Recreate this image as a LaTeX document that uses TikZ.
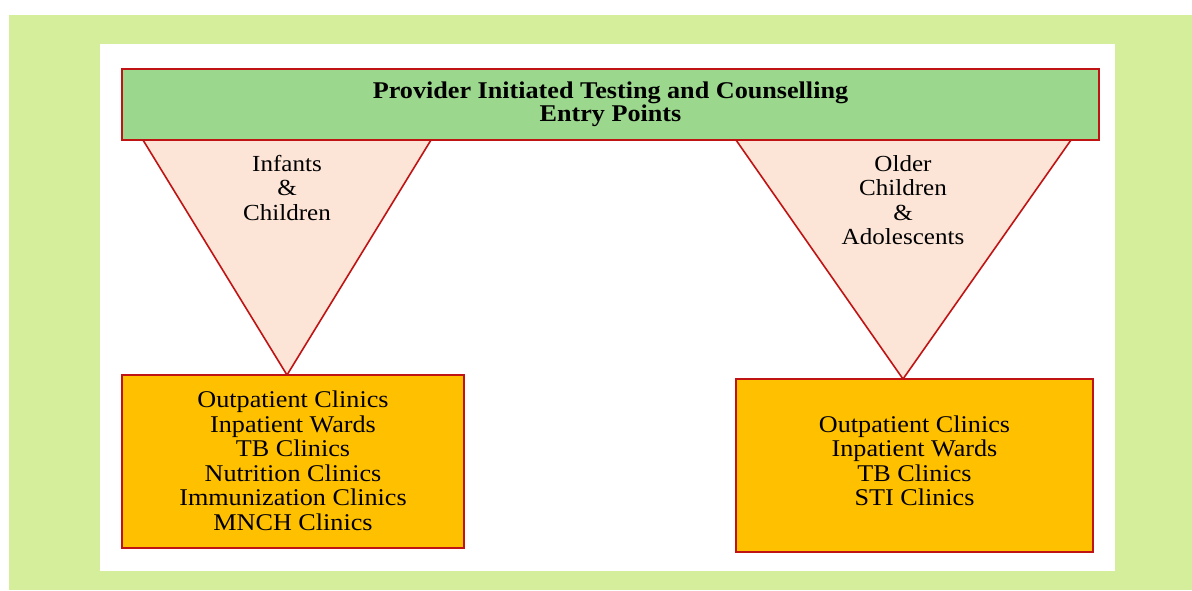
\documentclass[tikz,border=0pt]{standalone}
\usepackage{fontspec}
\setmainfont{Liberation Serif}[FakeStretch=1.09]

\definecolor{outergreen}{RGB}{213,238,155}
\definecolor{bargreen}{RGB}{155,215,140}
\definecolor{peach}{RGB}{252,228,214}
\definecolor{amber}{RGB}{255,192,0}
\definecolor{edgered}{RGB}{192,20,20}

\tikzset{
  headbar/.style={draw=edgered,line width=2pt,fill=bargreen,minimum width=977pt,minimum height=71pt,
    align=center,font=\fontsize{24}{23.5}\selectfont\bfseries},
  wedge/.style={draw=edgered,line width=1.6pt,fill=peach,line join=miter},
  wedgetext/.style={align=center,font=\fontsize{23}{24.5}\selectfont},
  sitebox/.style={draw=edgered,line width=2pt,fill=amber,align=center,
    font=\fontsize{24}{24.5}\selectfont}
}

\begin{document}
\begin{tikzpicture}[x=1pt,y=-1pt]
   \useasboundingbox (0,0) rectangle (1192,590);
   \fill[outergreen] (9,15) rectangle (1192,590);
   \fill[white] (100,44) rectangle (1115,571);
   % corners of the two wedges
   \coordinate (la) at (143,140);
   \coordinate (lb) at (431,140);
   \coordinate (lc) at (287,375);
   \coordinate (ra) at (736,140);
   \coordinate (rb) at (1071,140);
   \coordinate (rc) at (903,379);
   \draw[wedge] (la) -- (lb) -- (lc) -- cycle;
   \draw[wedge] (ra) -- (rb) -- (rc) -- cycle;
   \node[wedgetext] (young) at (287,188) {Infants\\\&\\Children};
   \node[wedgetext] (older) at (903,200) {Older\\Children\\\&\\Adolescents};
   \node[headbar] (head) at (610.5,104.5) {Provider Initiated Testing and Counselling\\Entry Points};
   \node[sitebox,minimum width=342pt,minimum height=173pt] (lsites) at (293,461)
      {Outpatient Clinics\\Inpatient Wards\\TB Clinics\\Nutrition Clinics\\Immunization Clinics\\MNCH Clinics};
   \node[sitebox,minimum width=357pt,minimum height=173pt,text depth=10pt] (rsites) at (914.5,465.5)
      {Outpatient Clinics\\Inpatient Wards\\TB Clinics\\STI Clinics};
\end{tikzpicture}
\end{document}
